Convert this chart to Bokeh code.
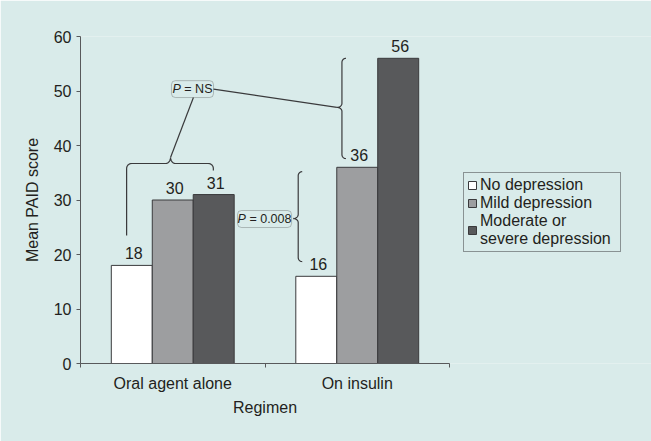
import numpy as np
from bokeh.plotting import figure
from bokeh.models import (Range1d, FixedTicker, Legend, LegendItem, Title,
                          BoxAnnotation, ColumnDataSource)
from bokeh.core.properties import value
from bokeh.embed import file_html
from bokeh.resources import INLINE

# ---------------- data ----------------
categories = ["Oral agent alone", "On insulin"]
series_names = ["No depression", "Mild depression", "Moderate or\nsevere depression"]
no_depression = [18, 16]
mild_depression = [30, 36]
moderate_severe = [31, 56]
y_ticks = [0, 10, 20, 30, 40, 50, 60]
x_title = "Regimen"
y_title = "Mean PAID score"
p_labels = ["= NS", "= 0.008"]

# annotation geometry (data units)
brace_oral = dict(xl=0.25, xr=0.72, y=36.7, xc=0.488, yl_end=23.5, yr_end=35.4)
brace_ins = dict(x=1.417, top=56.0, bot=37.6, yc=47.0)
brace_008 = dict(x=1.18, top=35.2, bot=18.7, yc=26.6)
box_ns = dict(left=0.493, right=0.721, bottom=48.8, top=51.9)
box_008 = dict(left=0.851, right=1.144, bottom=24.95, top=28.07)

# ---------------- style ----------------
FONT = "Liberation Sans"
TEXT = "#231f20"
AX = "#58595b"
BG = "#d9ebea"
fills = ["#ffffff", "#9d9ea0", "#58595b"]
OUT = "#3a3a3c"

W, H = 651, 441
ML, MT, MB = 80, 36, 78
AXIS_PX = 369            # pixel length of the category axis
YMAX = 60
NCAT = len(categories)
XS = AXIS_PX / NCAT
YS = (H - MT - MB) / YMAX
XMAX = (W - ML) / XS     # frame extends to the right edge so the legend is not clipped

p = figure(width=W, height=H, x_range=Range1d(0, XMAX),
           y_range=Range1d(0, YMAX), output_backend="svg", toolbar_location=None,
           min_border_left=ML, min_border_right=0, min_border_top=MT,
           min_border_bottom=MB, background_fill_color=BG, border_fill_color=BG)
p.outline_line_color = None
p.xgrid.visible = False
p.ygrid.visible = False

bar_w = 0.222
offsets = [-bar_w, 0.0, bar_w]
centers = np.arange(NCAT) + 0.5
renderers = []
for vals, off, col in zip([no_depression, mild_depression, moderate_severe], offsets, fills):
    src = ColumnDataSource(dict(x=centers + off, top=vals, label=[str(v) for v in vals]))
    r = p.vbar(x="x", top="top", width=bar_w, source=src, fill_color=col,
               line_color=OUT, line_width=1)
    renderers.append(r)
    p.text(x="x", y="top", text="label", source=src, text_align="center",
           text_baseline="alphabetic", x_offset=2, y_offset=-12,
           text_font=value(FONT), text_font_size="16px", text_color=TEXT)

# ---------------- braces ----------------
def arc(cx, cy, rx, ry, a0, a1, n=10):
    t = np.radians(np.linspace(a0, a1, n))
    return list(cx + rx * np.cos(t)), list(cy + ry * np.sin(t))

def hbrace(xl, xr, y, xc, yl_end, yr_end, r_px=5, c_px=6):
    rx, ry, cy = r_px / XS, r_px / YS, c_px / YS
    xs, ys = [xl], [yl_end]
    for seg in (arc(xl + rx, y - ry, rx, ry, 180, 90),
                arc(xc - rx, y + cy, rx, cy, -90, 0),
                arc(xc + rx, y + cy, rx, cy, 180, 270),
                arc(xr - rx, y - ry, rx, ry, 90, 0)):
        xs += seg[0]; ys += seg[1]
    xs.append(xr); ys.append(yr_end)
    return xs, ys

def vbrace(x, top, bot, yc, r_px=4, c_px=5):
    rx, ry, cx = r_px / XS, r_px / YS, c_px / XS
    xs, ys = [], []
    for seg in (arc(x + rx, top - ry, rx, ry, 90, 180),
                arc(x - cx, yc + ry, cx, ry, 0, -90),
                arc(x - cx, yc - ry, cx, ry, 90, 0),
                arc(x + rx, bot + ry, rx, ry, 180, 270)):
        xs += seg[0]; ys += seg[1]
    return xs, ys

LW = 1.2
bx, by = hbrace(**brace_oral)
p.line(bx, by, line_color=OUT, line_width=LW)
bx, by = vbrace(brace_ins["x"], brace_ins["top"], brace_ins["bot"], brace_ins["yc"])
p.line(bx, by, line_color=OUT, line_width=LW)
bx, by = vbrace(brace_008["x"], brace_008["top"], brace_008["bot"], brace_008["yc"])
p.line(bx, by, line_color=OUT, line_width=LW)

# connectors for P = NS
cusp_oral_y = brace_oral["y"] + 6 / YS
box_ns_mid_y = (box_ns["bottom"] + box_ns["top"]) / 2
p.line([brace_oral["xc"], 0.612], [cusp_oral_y, box_ns["bottom"]], line_color=OUT, line_width=LW)
p.line([box_ns["right"], brace_ins["x"] - 5 / XS], [box_ns_mid_y, brace_ins["yc"]],
       line_color=OUT, line_width=LW)

# boxes with labels
FS = 12.5
widths = {"=": 0.584, "N": 0.722, "S": 0.667, "0": 0.556, "8": 0.556, ".": 0.278, " ": 0.278}
for box, rest in zip([box_ns, box_008], p_labels):
    p.add_layout(BoxAnnotation(left=box["left"], right=box["right"], bottom=box["bottom"],
                               top=box["top"], fill_alpha=0, line_color=OUT,
                               line_width=1, border_radius=4))
    cx = (box["left"] + box["right"]) / 2
    cy = (box["bottom"] + box["top"]) / 2
    tw = (0.667 + 0.278 + sum(widths[c] for c in rest)) * FS
    p.text(x=[cx], y=[cy], text=["P"], text_align="left", text_baseline="middle",
           x_offset=-tw / 2, text_font=value(FONT), text_font_style="italic",
           text_font_size=f"{FS}px", text_color=TEXT)
    p.text(x=[cx], y=[cy], text=[rest], text_align="right", text_baseline="middle",
           x_offset=tw / 2, text_font=value(FONT), text_font_size=f"{FS}px",
           text_color=TEXT)

# ---------------- axes ----------------
xa = p.xaxis[0]
xa.bounds = (0, NCAT)
xa.ticker = FixedTicker(ticks=list(centers), minor_ticks=list(range(NCAT + 1)))
xa.major_label_overrides = {float(c): n for c, n in zip(centers, categories)}
xa.major_tick_out = 0
xa.major_tick_in = 0
xa.minor_tick_out = 4
xa.minor_tick_in = 0
xa.minor_tick_line_color = AX
xa.axis_line_color = AX
xa.major_label_standoff = 7

ya = p.yaxis[0]
ya.ticker = FixedTicker(ticks=y_ticks)
ya.major_tick_out = 4
ya.major_tick_in = 0
ya.minor_tick_line_color = None
ya.major_tick_line_color = AX
ya.axis_line_color = AX
ya.major_label_standoff = 5
ya.axis_label = y_title
ya.axis_label_standoff = 10

for ax in (xa, ya):
    ax.major_label_text_font = FONT
    ax.major_label_text_font_size = "16px"
    ax.major_label_text_color = TEXT
    ax.axis_label_text_font = FONT
    ax.axis_label_text_font_size = "16px"
    ax.axis_label_text_font_style = "normal"
    ax.axis_label_text_color = TEXT

# x-axis title centred under the category axis (not under the wider frame)
title_w = 4.0 * 16
p.add_layout(Title(text=x_title, align="left", offset=AXIS_PX / 2 - title_w / 2,
                   text_font=FONT, text_font_size="16px", text_font_style="normal",
                   text_color=TEXT, standoff=4), "below")

# ---------------- legend ----------------
legend = Legend(items=[LegendItem(label=n, renderers=[r]) for n, r in zip(series_names, renderers)],
                location=(383, 111), orientation="vertical",
                label_text_font=FONT, label_text_font_size="16px", label_text_color=TEXT,
                label_text_line_height=0.9,
                label_height=16, label_width=137, label_standoff=3,
                glyph_width=10, glyph_height=10,
                spacing=0, padding=3, margin=0,
                border_line_color=OUT, border_line_width=1, background_fill_alpha=0)
p.add_layout(legend, "center")

open("out.html", "w").write(file_html(p, INLINE))
